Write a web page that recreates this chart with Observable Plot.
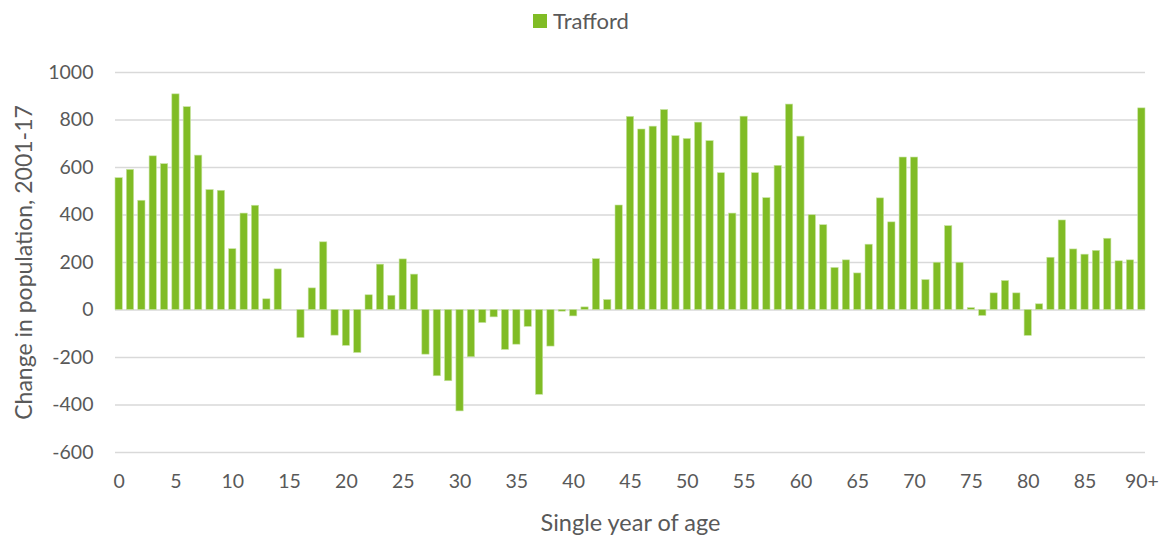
<!DOCTYPE html>
<html>
<head>
<meta charset="utf-8">
<script src="https://cdn.jsdelivr.net/npm/d3@7"></script>
<script src="https://cdn.jsdelivr.net/npm/@observablehq/plot@0.6"></script>
<style>
  html, body { margin: 0; padding: 0; background: #fff; }
  body { width: 1162px; height: 538px; overflow: hidden; font-family: Lato, "Open Sans", sans-serif; }
  #legend { height: 40px; display: flex; align-items: center; justify-content: center; font-size: 22px; color: #595959; }
  #legend .sw { width: 14px; height: 14px; background: #80bc25; margin-right: 6px; margin-top: 1px; }
</style>
</head>
<body>
<div id="legend"><span class="sw"></span><span>Trafford</span></div>
<div id="chart"></div>
<script>
const seriesName = "Trafford";
const ages = d3.range(90).map(String).concat(["90+"]);
const change = [
  555, 590, 460, 647, 614, 908, 854, 650, 505, 502,
  256, 406, 439, 45, 171, 0, -118, 91, 285, -108,
  -151, -181, 62, 191, 60, 213, 149, -188, -279, -300,
  -427, -199, -55, -31, -168, -146, -71, -357, -154, -7,
  -27, 11, 214, 42, 440, 813, 760, 772, 842, 732,
  720, 789, 711, 576, 406, 814, 576, 471, 607, 865,
  730, 399, 357, 177, 209, 154, 275, 470, 369, 642,
  642, 126, 199, 353, 199, 8, -25, 70, 122, 70,
  -109, 24, 220, 377, 255, 233, 249, 300, 205, 209,
  849
];
const xTickLabels = ["0","5","10","15","20","25","30","35","40","45","50","55","60","65","70","75","80","85","90+"];
const yTicks = [-600, -400, -200, 0, 200, 400, 600, 800, 1000];

const data = ages.map((a, i) => ({age: a, value: change[i]}));

const chart = Plot.plot({
  width: 1162,
  height: 498,
  marginTop: 32,
  marginBottom: 86,
  marginLeft: 115,
  marginRight: 17,
  style: {fontFamily: 'Lato, "Open Sans", sans-serif', fontSize: "19.5px", color: "#595959", background: "#fff"},
  x: {domain: ages, paddingInner: 0.36, paddingOuter: 0, label: null},
  y: {domain: [-600, 1000], label: null},
  marks: [
    Plot.gridY(yTicks, {stroke: "#d9d9d9", strokeOpacity: 1, strokeWidth: 1.5}),
    Plot.barY(data, {x: "age", y: "value", fill: "#80bc25", stroke: "#c6e3a0", strokeWidth: 0.6}),
    Plot.axisY(yTicks, {tickSize: 0, tickPadding: 22, fill: "#595959", fontSize: 19.5, label: null, tickFormat: d => String(d)}),
    Plot.axisX(xTickLabels, {tickSize: 0, tickPadding: 22, fill: "#595959", fontSize: 19.5, label: null}),
    Plot.text([seriesName], {frameAnchor: "bottom", dy: 78, text: () => "Single year of age", fill: "#595959", fontSize: 23.5}),
    Plot.text([seriesName], {frameAnchor: "left", textAnchor: "middle", dx: -91, rotate: -90, text: () => "Change in population, 2001-17", fill: "#595959", fontSize: 23})
  ]
});
document.getElementById("chart").appendChild(chart);
</script>
</body>
</html>
